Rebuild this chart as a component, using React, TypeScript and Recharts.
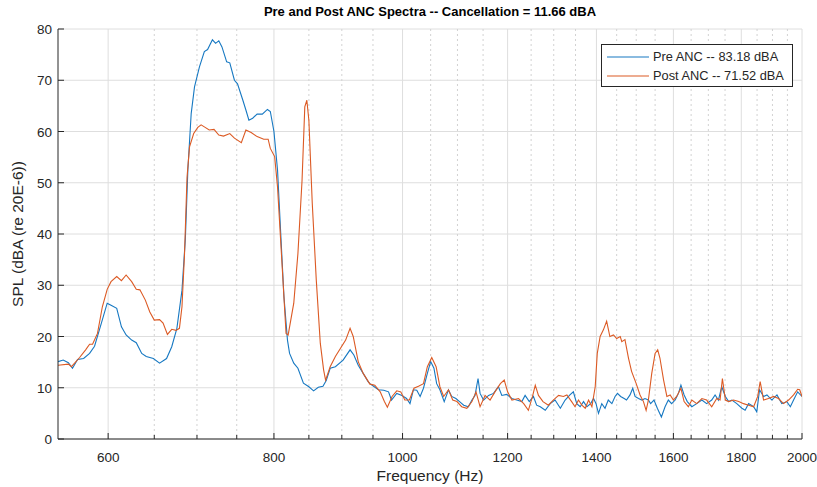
import { CartesianGrid, Legend, Line, LineChart, XAxis, YAxis } from "recharts";

const PRE_FREQ = [
  550, 555, 560, 564, 569, 575, 581, 586, 593, 599,
  603, 609, 614, 619, 625, 630, 636, 641, 649, 656,
  664, 670, 676, 682, 686, 689, 693, 697, 703, 709,
  713, 719, 723, 727, 731, 737, 741, 747, 751, 758,
  762, 766, 771, 777, 784, 791, 795, 800, 805, 809,
  814, 819, 822, 828, 834, 842, 850, 857, 864, 871,
  876, 882, 890, 902, 913, 919, 926, 934, 942, 945,
  951, 959, 968, 976, 981, 990, 999, 1007, 1013, 1019,
  1025, 1031, 1037, 1044, 1050, 1056, 1061, 1067, 1075, 1083,
  1089, 1097, 1104, 1112, 1121, 1128, 1134, 1140, 1144, 1151,
  1161, 1171, 1181, 1188, 1198, 1209, 1219, 1230, 1237, 1246,
  1255, 1262, 1270, 1281, 1292, 1303, 1315, 1326, 1337, 1345,
  1353, 1361, 1369, 1377, 1386, 1393, 1399, 1405, 1413, 1421,
  1429, 1438, 1446, 1452, 1460, 1469, 1475, 1484, 1491, 1497,
  1506, 1515, 1523, 1532, 1538, 1547, 1556, 1567, 1577, 1586,
  1595, 1605, 1614, 1621, 1630, 1639, 1652, 1666, 1681, 1695,
  1710, 1720, 1730, 1740, 1751, 1761, 1771, 1786, 1802, 1812,
  1823, 1839, 1849, 1858, 1871, 1882, 1898, 1915, 1931, 1948,
  1960, 1971, 1985, 2000,
];
const PRE_SPL = [
  15.1, 15.4, 14.9, 13.8, 15.5, 15.7, 16.7, 18.1, 22.6, 26.5,
  26.1, 25.5, 21.9, 20.3, 19.3, 18.8, 16.7, 16.1, 15.7, 14.8,
  15.7, 18.0, 21.6, 29.0, 39.0, 52.5, 63.5, 68.7, 72.6, 75.6,
  76.0, 77.9, 77.2, 77.7, 76.5, 73.6, 73.4, 70.0, 69.3, 66.1,
  64.2, 62.2, 62.6, 63.4, 63.4, 64.3, 63.9, 60.0, 52.5, 41.4,
  27.8, 19.3, 16.7, 14.8, 13.8, 10.9, 10.2, 9.4, 10.1, 10.3,
  11.4, 13.8, 14.1, 15.4, 17.4, 16.4, 14.4, 12.8, 11.2, 10.8,
  10.3, 9.6, 9.5, 9.2, 7.6, 8.9, 8.5, 7.9, 6.9, 9.6,
  9.5, 8.3, 9.9, 12.8, 15.1, 13.8, 10.8, 9.6, 7.3, 9.6,
  8.3, 7.9, 7.3, 6.6, 6.3, 7.6, 8.5, 11.8, 8.9, 7.6,
  8.5, 8.9, 10.2, 8.5, 8.7, 7.9, 7.6, 7.3, 8.5, 7.3,
  8.3, 6.6, 6.3, 5.6, 6.9, 7.6, 6.0, 7.6, 8.6, 9.2,
  6.9, 6.3, 7.3, 6.3, 6.9, 7.9, 6.9, 5.0, 6.9, 6.0,
  7.6, 6.9, 8.3, 8.9, 8.3, 7.9, 7.6, 8.6, 9.9, 8.3,
  7.9, 7.6, 7.9, 7.6, 6.9, 7.6, 6.0, 4.3, 6.3, 7.6,
  6.9, 7.6, 8.9, 10.5, 8.6, 7.3, 6.3, 6.9, 7.6, 6.9,
  7.6, 8.6, 7.6, 10.2, 8.3, 7.3, 7.6, 6.9, 6.0, 5.6,
  6.9, 6.3, 5.3, 9.6, 8.3, 8.6, 7.6, 8.6, 6.9, 7.3,
  6.3, 7.6, 9.2, 8.3,
];

const POST_FREQ = [
  550, 560, 563, 571, 577, 581, 584, 589, 594, 599,
  603, 609, 614, 619, 625, 630, 634, 640, 645, 650,
  656, 660, 665, 670, 675, 679, 682, 685, 688, 691,
  696, 701, 705, 709, 715, 721, 727, 733, 741, 747,
  756, 762, 769, 777, 786, 792, 795, 801, 805, 811,
  817, 820, 828, 834, 840, 844, 847, 850, 855, 861,
  867, 872, 875, 882, 890, 906, 913, 918, 926, 934,
  945, 953, 962, 969, 974, 982, 990, 997, 1004, 1012,
  1020, 1028, 1037, 1044, 1052, 1060, 1067, 1074, 1083, 1091,
  1099, 1108, 1118, 1128, 1136, 1144, 1154, 1164, 1174, 1185,
  1193, 1200, 1209, 1223, 1234, 1244, 1253, 1259, 1266, 1276,
  1288, 1299, 1311, 1322, 1330, 1341, 1349, 1357, 1365, 1373,
  1381, 1389, 1397, 1402, 1409, 1417, 1425, 1433, 1442, 1450,
  1459, 1463, 1471, 1480, 1488, 1500, 1510, 1519, 1526, 1532,
  1541, 1550, 1557, 1563, 1573, 1582, 1591, 1600, 1609, 1621,
  1630, 1642, 1652, 1666, 1681, 1695, 1710, 1725, 1735, 1742,
  1751, 1761, 1776, 1792, 1807, 1823, 1839, 1852, 1860, 1871,
  1887, 1904, 1920, 1937, 1954, 1971, 1985, 1992, 2000,
];
const POST_SPL = [
  14.4, 14.6, 14.1, 15.9, 17.4, 18.5, 18.5, 20.6, 25.8, 29.2,
  30.7, 31.7, 30.9, 32.0, 30.7, 29.2, 29.1, 27.1, 24.8, 23.2,
  23.3, 22.6, 20.4, 21.4, 21.2, 21.6, 25.8, 36.0, 51.0, 57.0,
  59.6, 60.8, 61.3, 60.9, 60.3, 60.4, 59.3, 59.1, 59.6, 58.7,
  57.8, 60.3, 59.8, 59.0, 58.5, 58.5, 56.7, 55.1, 49.2, 34.9,
  20.6, 20.3, 26.5, 36.2, 50.5, 64.8, 66.1, 62.2, 46.0, 31.0,
  18.7, 13.5, 11.5, 14.1, 16.1, 19.3, 21.6, 20.0, 15.1, 12.8,
  10.7, 10.5, 9.2, 7.3, 6.2, 8.3, 9.4, 9.2, 7.6, 7.6,
  9.9, 10.3, 10.8, 14.1, 15.9, 14.1, 10.2, 8.3, 9.6, 7.6,
  7.3, 6.3, 6.0, 7.3, 9.2, 6.3, 8.5, 7.6, 9.2, 10.8,
  11.5, 9.2, 7.6, 7.9, 6.9, 5.6, 8.3, 10.5, 8.5, 7.3,
  6.6, 7.6, 8.5, 8.3, 8.6, 7.3, 6.3, 7.6, 6.6, 6.0,
  7.6, 6.3, 10.2, 16.7, 20.0, 21.3, 23.0, 20.0, 20.3, 19.6,
  20.0, 19.0, 19.4, 15.8, 13.2, 10.8, 8.6, 7.3, 5.6, 7.6,
  12.8, 16.7, 17.4, 15.8, 11.5, 8.3, 8.6, 7.6, 8.3, 9.9,
  7.3, 6.3, 7.6, 6.9, 7.9, 7.6, 6.3, 7.9, 7.6, 11.8,
  7.6, 7.3, 7.6, 7.3, 6.9, 6.6, 6.3, 8.3, 11.2, 7.6,
  7.9, 8.3, 7.9, 6.9, 7.6, 8.6, 9.7, 9.6, 8.3,
];

const MAJOR_TICKS = [600, 800, 1000, 1200, 1400, 1600, 1800, 2000];
const MINOR_TICKS = [
  650, 700, 750, 850, 900, 950, 1050, 1100, 1150, 1250, 1300, 1350,
  1450, 1500, 1550, 1650, 1700, 1750, 1850, 1900, 1950,
];
const Y_TICKS = [0, 10, 20, 30, 40, 50, 60, 70, 80];

const SERIES = [
  { key: "pre", name: "Pre ANC -- 83.18 dBA", color: "#1678c2" },
  { key: "post", name: "Post ANC -- 71.52 dBA", color: "#dc5a24" },
];

const preData = PRE_FREQ.map((f, i) => ({ f, v: PRE_SPL[i] }));
const postData = POST_FREQ.map((f, i) => ({ f, v: POST_SPL[i] }));
const allTicks = [...MAJOR_TICKS, ...MINOR_TICKS].sort((a, b) => a - b);

const INK = "#262626";
const FONT = "'Liberation Sans', Arial, Helvetica, sans-serif";

function XTick({ x, y, payload }: any) {
  const major = MAJOR_TICKS.includes(payload.value);
  return (
    <g>
      <line x1={x} x2={x} y1={y} y2={y - (major ? 6 : 4)} stroke={INK} strokeWidth={1} />
      {major && (
        <text x={x} y={y + 23} textAnchor="middle" fontSize={13.5} fill={INK} fontFamily={FONT}>
          {payload.value}
        </text>
      )}
    </g>
  );
}

function YTick({ x, y, payload }: any) {
  return (
    <g>
      <line x1={x} x2={x + 6} y1={y} y2={y} stroke={INK} strokeWidth={1} />
      <text x={x - 6} y={y + 5} textAnchor="end" fontSize={13.5} fill={INK} fontFamily={FONT}>
        {payload.value}
      </text>
    </g>
  );
}

function scaleOf(axis: any, v: number) {
  const s = axis?.scale;
  if (typeof s === "function") return s(v);
  if (s && typeof s.map === "function") return s.map(v);
  return 0;
}

function LegendBox() {
  return (
    <div style={{ width: 192, height: 43, border: `1px solid ${INK}`, background: "#fff", padding: "2px 0 0 5px", fontFamily: FONT, fontSize: 12.8, color: INK, boxSizing: "border-box", whiteSpace: "nowrap" }}>
      {SERIES.map((s) => (
        <div key={s.key} style={{ display: "flex", alignItems: "center", height: 19 }}>
          <svg width={42} height={4} style={{ marginRight: 4, flex: "none" }}>
            <line x1={0} x2={42} y1={2} y2={2} stroke={s.color} strokeWidth={1.2} />
          </svg>
          <span>{s.name}</span>
        </div>
      ))}
    </div>
  );
}

export default function App() {
  return (
    <div style={{ position: "fixed", left: 0, top: 0, width: 817, height: 487, background: "#fff", fontFamily: FONT }}>
      <div style={{ position: "absolute", left: 58, top: 4, width: 744, textAlign: "center", fontWeight: "bold", fontSize: 13, lineHeight: "16px", color: "#000" }}>
        Pre and Post ANC Spectra -- Cancellation = 11.66 dBA
      </div>
      <LineChart width={817} height={487} margin={{ top: 29, right: 15, bottom: 0, left: 0 }}>
        <CartesianGrid vertical={false} stroke="#dedede" />
        <CartesianGrid
          horizontal={false}
          stroke="#d2d2d2"
          strokeDasharray="2 3"
          verticalCoordinatesGenerator={({ xAxis }: any) => MINOR_TICKS.map((t) => scaleOf(xAxis, t))}
        />
        <CartesianGrid
          horizontal={false}
          stroke="#dedede"
          verticalCoordinatesGenerator={({ xAxis }: any) => MAJOR_TICKS.map((t) => scaleOf(xAxis, t))}
        />
        <XAxis
          dataKey="f"
          type="number"
          scale="log"
          domain={[550, 2000]}
          allowDataOverflow
          ticks={allTicks}
          interval={0}
          height={48}
          tickLine={false}
          tickSize={0}
          tickMargin={0}
          tick={<XTick />}
          axisLine={{ stroke: INK }}
        />
        <YAxis
          type="number"
          domain={[0, 80]}
          ticks={Y_TICKS}
          interval={0}
          width={58}
          tickLine={false}
          tickSize={0}
          tickMargin={0}
          tick={<YTick />}
          axisLine={{ stroke: INK }}
        />
        <Legend
          layout="vertical"
          align="center"
          verticalAlign="middle"
          content={<LegendBox />}
          wrapperStyle={{ position: "absolute", left: 601, top: 44, width: 192 }}
        />
        <Line data={preData} dataKey="v" name={SERIES[0].name} type="linear" stroke={SERIES[0].color} strokeWidth={1.1} dot={false} activeDot={false} isAnimationActive={false} />
        <Line data={postData} dataKey="v" name={SERIES[1].name} type="linear" stroke={SERIES[1].color} strokeWidth={1.1} dot={false} activeDot={false} isAnimationActive={false} />
      </LineChart>
      <div style={{ position: "absolute", left: 58, top: 467, width: 744, textAlign: "center", fontSize: 15.5, lineHeight: "18px", color: INK }}>
        Frequency (Hz)
      </div>
      <div style={{ position: "absolute", left: 18, top: 234, width: 300, marginLeft: -150, marginTop: -9, textAlign: "center", fontSize: 15.5, lineHeight: "18px", color: INK, transform: "rotate(-90deg)" }}>
        SPL (dBA (re 20E-6))
      </div>
    </div>
  );
}
